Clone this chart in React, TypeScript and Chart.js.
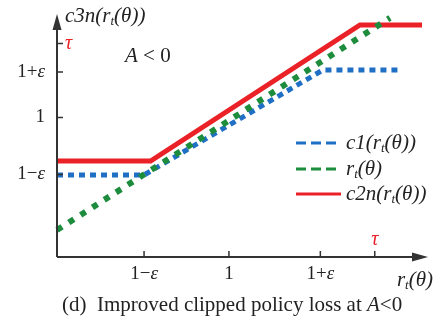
import React, { useEffect, useRef } from "react";
import { Chart, registerables } from "chart.js";
Chart.register(...registerables);

// ---- data ----
const xTickValues = [0.8, 0.995, 1.205, 1.33];
const xTickLabels = ["1−ε", "1", "1+ε", "τ"];
const yTickValues = [0.8, 1.0, 1.16, 1.26];
const yTickLabels = ["1−ε", "1", "1+ε", "τ"];

const clip1X = [0.6, 0.8, 1.211, 1.383];
const clip1Y = [0.798, 0.798, 1.167, 1.167];
const ratioX = [0.6, 1.365];
const ratioY = [0.605, 1.35];
const clip2X = [0.6, 0.815, 1.296, 1.4385];
const clip2Y = [0.847, 0.847, 1.325, 1.325];

const BLUE = "#1f6fc4";
const GREEN = "#1d8d3d";
const RED = "#ea2228";
const AXIS = "#333333";
const SERIF = '"Liberation Serif", "DejaVu Serif", serif';

type Part = { t: string; i?: boolean; sub?: boolean; color?: string };

function drawRich(ctx: CanvasRenderingContext2D, x: number, y: number, parts: Part[], size: number, align: "left" | "center" | "right" = "left", color = "#222") {
  const fontFor = (p: Part) => `${p.i ? "italic " : ""}${p.sub ? Math.round(size * 0.6) : size}px ${SERIF}`;
  let total = 0;
  for (const p of parts) {
    ctx.font = fontFor(p);
    total += ctx.measureText(p.t).width;
  }
  let cx = align === "left" ? x : align === "center" ? x - total / 2 : x - total;
  ctx.textBaseline = "middle";
  ctx.textAlign = "left";
  for (const p of parts) {
    ctx.font = fontFor(p);
    ctx.fillStyle = p.color || color;
    ctx.fillText(p.t, cx, p.sub ? y + size * 0.28 : y);
    cx += ctx.measureText(p.t).width;
  }
}

// split a tick label so that ε is italic
function tickParts(lab: string): Part[] {
  return lab.split(/(ε)/).filter((s) => s).map((s) => (s === "ε" ? { t: s, i: true } : { t: s }));
}

const rt: Part[] = [{ t: "r", i: true }, { t: "t", i: true, sub: true }, { t: "(θ)", i: true }];

const decorPlugin = {
  id: "decor",
  afterDatasetsDraw(chart: any) {
    const ctx: CanvasRenderingContext2D = chart.ctx;
    const { left, right, top, bottom } = chart.chartArea;
    const xs = chart.scales.x;
    const ys = chart.scales.y;
    ctx.save();
    // axes
    ctx.strokeStyle = AXIS;
    ctx.fillStyle = AXIS;
    ctx.lineWidth = 2;
    ctx.beginPath();
    ctx.moveTo(left, bottom);
    ctx.lineTo(left, top + 6);
    ctx.moveTo(left, bottom);
    ctx.lineTo(right - 6, bottom);
    ctx.stroke();
    // arrowheads
    ctx.beginPath();
    ctx.moveTo(left, top - 1);
    ctx.lineTo(left - 4.5, top + 15);
    ctx.lineTo(left + 4.5, top + 15);
    ctx.closePath();
    ctx.fill();
    ctx.beginPath();
    ctx.moveTo(right + 1, bottom);
    ctx.lineTo(right - 15, bottom - 4.5);
    ctx.lineTo(right - 15, bottom + 4.5);
    ctx.closePath();
    ctx.fill();
    // ticks
    ctx.lineWidth = 1.5;
    ctx.beginPath();
    yTickValues.forEach((v) => {
      const py = ys.getPixelForValue(v);
      ctx.moveTo(left, py);
      ctx.lineTo(left + 6, py);
    });
    xTickValues.forEach((v) => {
      const px = xs.getPixelForValue(v);
      ctx.moveTo(px, bottom);
      ctx.lineTo(px, bottom - 6);
    });
    ctx.stroke();
    // tick labels
    yTickValues.forEach((v, k) => {
      const py = ys.getPixelForValue(v);
      const lab = yTickLabels[k];
      if (lab === "τ") {
        drawRich(ctx, left + 8, py, [{ t: lab, i: true, color: RED }], 20, "left");
      } else {
        drawRich(ctx, left - 12, py, tickParts(lab), 19, "right");
      }
    });
    xTickValues.forEach((v, k) => {
      const px = xs.getPixelForValue(v);
      const lab = xTickLabels[k];
      if (lab === "τ") {
        drawRich(ctx, px, bottom - 17, [{ t: lab, i: true, color: RED }], 20, "center");
      } else {
        drawRich(ctx, px, bottom + 17, tickParts(lab), 19, "center");
      }
    });
    // axis titles
    drawRich(ctx, left + 8, 16, [{ t: "c3n(", i: true }, ...rt, { t: ")", i: true }], 21, "left");
    drawRich(ctx, right + 6, bottom + 23, rt, 21, "right");
    drawRich(ctx, 125, 56, [{ t: "A", i: true }, { t: " < 0" }], 21, "left");
    // legend
    const legend = [
      { color: BLUE, dash: [10, 5], parts: [{ t: "c1(", i: true }, ...rt, { t: ")", i: true }] as Part[], y: 143 },
      { color: GREEN, dash: [10, 5], parts: rt, y: 169 },
      { color: RED, dash: [] as number[], parts: [{ t: "c2n(", i: true }, ...rt, { t: ")", i: true }] as Part[], y: 194 },
    ];
    legend.forEach((it) => {
      ctx.strokeStyle = it.color;
      ctx.lineWidth = 3;
      ctx.setLineDash(it.dash);
      ctx.beginPath();
      ctx.moveTo(296, it.y);
      ctx.lineTo(341, it.y);
      ctx.stroke();
      ctx.setLineDash([]);
      drawRich(ctx, 346, it.y, it.parts, 21, "left");
    });
    // caption
    drawRich(ctx, 62, 305, [{ t: "(d)  Improved clipped policy loss at " }, { t: "A", i: true }, { t: "<0" }], 21, "left");
    ctx.restore();
  },
};

export default function App() {
  const ref = useRef<HTMLCanvasElement>(null);
  useEffect(() => {
    document.body.style.margin = "0";
    let chart: Chart | null = null;
    let cancelled = false;
    const toPts = (xa: number[], ya: number[]) => xa.map((x, i) => ({ x, y: ya[i] }));
    const build = () => {
      if (cancelled || !ref.current) return;
      chart = new Chart(ref.current, {
        type: "line",
        data: {
          datasets: [
            { label: "r(θ)", data: toPts(ratioX, ratioY), borderColor: GREEN, borderWidth: 6, borderDash: [6, 8], pointRadius: 0, order: 0, clip: false } as any,
            { label: "c1", data: toPts(clip1X, clip1Y), borderColor: BLUE, borderWidth: 5, borderDash: [6, 5], pointRadius: 0, order: 1, clip: false } as any,
            { label: "c2n", data: toPts(clip2X, clip2Y), borderColor: RED, borderWidth: 5, pointRadius: 0, order: 2, clip: false } as any,
          ],
        },
        options: {
          animation: false,
          responsive: false,
          layout: { padding: { left: 57, right: 12, top: 15, bottom: 65 } },
          scales: {
            x: { type: "linear", min: 0.6, max: 1.45, display: false },
            y: { type: "linear", min: 0.51, max: 1.36, display: false },
          },
          plugins: { legend: { display: false }, tooltip: { enabled: false } },
          elements: { line: { tension: 0 } },
        },
        plugins: [decorPlugin],
      });
    };
    const fonts = (document as any).fonts;
    if (fonts && fonts.load) {
      Promise.all([
        fonts.load('20px "Liberation Serif"', "1+εθτ"),
        fonts.load('italic 20px "Liberation Serif"', "c3nrθτAε"),
      ]).then(build, build);
    } else {
      build();
    }
    return () => {
      cancelled = true;
      if (chart) chart.destroy();
    };
  }, []);
  return <canvas ref={ref} width={439} height={322} style={{ display: "block", background: "#fff" }} />;
}
